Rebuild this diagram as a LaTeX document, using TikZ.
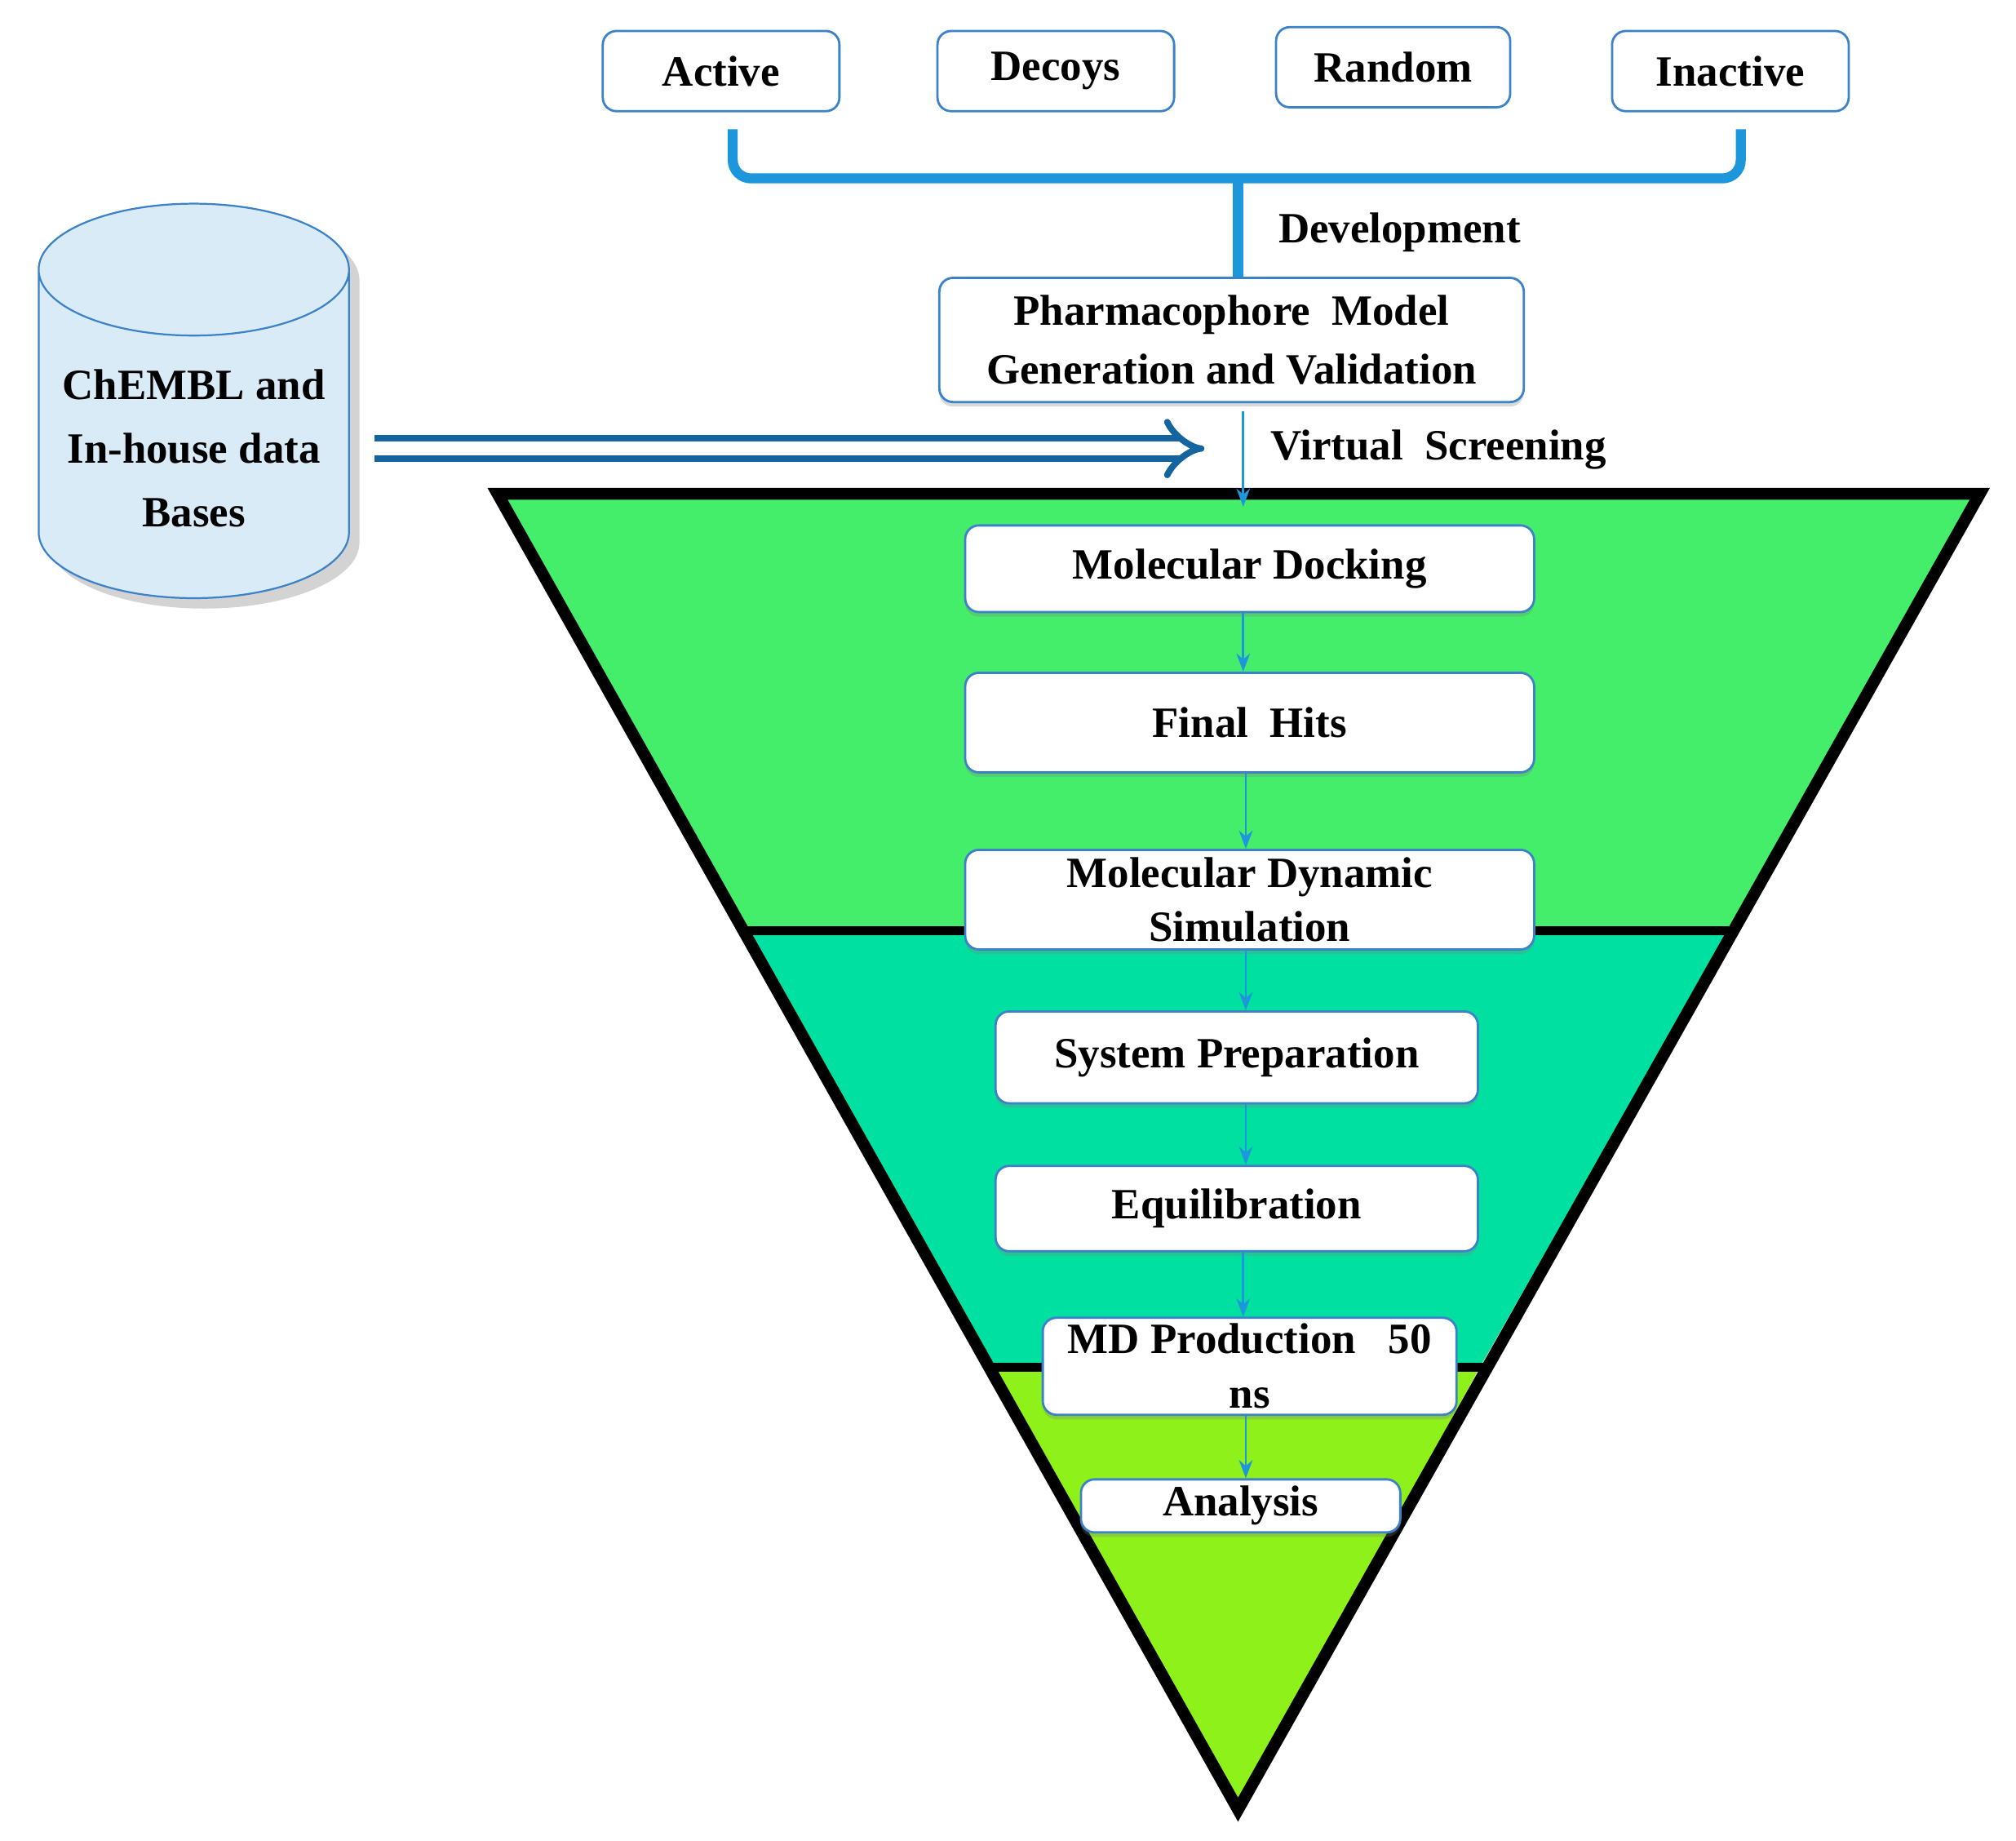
\documentclass[tikz,border=0pt]{standalone}
\usepackage{fontspec}
\setmainfont{Liberation Serif}
\usetikzlibrary{shapes.geometric,arrows.meta,shadows}
\definecolor{boxline}{RGB}{60,130,200}
\definecolor{bracecol}{RGB}{30,150,220}
\definecolor{dbarrow}{RGB}{20,100,160}
\definecolor{bandA}{RGB}{68,238,106}
\definecolor{bandB}{RGB}{0,224,160}
\definecolor{bandC}{RGB}{142,241,26}
\definecolor{dbfill}{RGB}{218,235,248}
\begin{document}
\begin{tikzpicture}[x=0.01cm,y=-0.01cm,
  every node/.style={font=\fontsize{9.5}{12}\selectfont\bfseries},
  tag/.style={draw=boxline, rounded corners=3pt, fill=white, line width=0.5pt,
    minimum height=0.62cm, inner sep=1pt},
  stage/.style={draw=boxline, rounded corners=3pt, fill=white, line width=0.5pt,
    align=center, inner sep=1pt, drop shadow={opacity=0.3, shadow xshift=0pt, shadow yshift=-1pt}},
  flow/.style={-{Stealth[length=4pt]}, draw=bracecol, line width=0.5pt}
  ]
  \useasboundingbox (0,0) rectangle (1560,1424);
  % funnel
  \fill[bandA] (385,382) -- (1532,382) -- (1338,720) -- (578,720) -- cycle;
  \fill[bandB] (578,720) -- (1338,720) -- (1145,1058) -- (767,1058) -- cycle;
  \fill[bandC] (767,1058) -- (1145,1058) -- (958,1400) -- cycle;
  \draw[line width=2.6pt, line join=miter] (385,382) -- (1532,382) -- (958,1400) -- cycle;
  \draw[line width=2pt] (578,720) -- (1338,720);
  \draw[line width=2pt] (762,1058) -- (1152,1058);
  % input sets
  \node[tag, minimum width=1.83cm] (active) at (558,55) {Active};
  \node[tag, minimum width=1.83cm] (decoys) at (817,55) {Decoys};
  \node[tag, minimum width=1.81cm] (random) at (1078,52) {Random};
  \node[tag, minimum width=1.83cm] (inactive) at (1339,55) {Inactive};
  \draw[bracecol, line width=2.2pt, rounded corners=4pt]
    (567,100) -- (567,138) -- (1347,138) -- (1347,100);
  \draw[bracecol, line width=2.2pt] (958,138) -- (958,222);
  \node[stage, minimum width=4.52cm, minimum height=0.96cm] (pharm) at (953,263)
    {Pharmacophore\ \ Model\\[1pt]Generation\ and\ Validation};
  \node (dev) at (1083,180) {Development};
  \node (vs) at (1113,348) {Virtual\ \ Screening};
  % database
  \node[cylinder, shape border rotate=90, aspect=0.45, draw=boxline, fill=dbfill,
    minimum width=2.4cm, minimum height=3.05cm, align=center,
    drop shadow={opacity=0.35}] (db) at (150,347)
    {ChEMBL and\\[2pt]In-house data\\[2pt]Bases};
  \coordinate (dbtip) at (932,347);
  \draw[dbarrow, double, double distance=3pt, line width=1.4pt, -{Implies}]
    (290,347) -- (dbtip);
  % screening steps
  \node[stage, minimum width=4.4cm, minimum height=0.67cm] (dock) at (967,440) {Molecular Docking};
  \node[stage, minimum width=4.4cm, minimum height=0.77cm] (hits) at (967,559) {Final\ \ Hits};
  \node[stage, minimum width=4.4cm, minimum height=0.77cm] (mds) at (967,696) {Molecular Dynamic\\Simulation};
  \node[stage, minimum width=3.73cm, minimum height=0.71cm] (prep) at (957,818) {System Preparation};
  \node[stage, minimum width=3.73cm, minimum height=0.66cm] (equil) at (957,935) {Equilibration};
  \node[stage, minimum width=3.2cm, minimum height=0.75cm] (prod) at (967,1057) {MD Production\ \ \ 50\\ns};
  \node[stage, minimum width=2.47cm, minimum height=0.41cm, inner sep=0pt] (anal) at (960,1165) {Analysis};
  \draw[flow] (pharm.south -| 962,0) ++(0,6) -- (962,392);
  \draw[flow] (dock.south -| 962,0) -- (hits.north -| 962,0);
  \draw[flow] (hits.south -| 964,0) -- (mds.north -| 964,0);
  \draw[flow] (mds.south -| 964,0) -- (prep.north -| 964,0);
  \draw[flow] (prep.south -| 964,0) -- (equil.north -| 964,0);
  \draw[flow] (equil.south -| 962,0) -- (prod.north -| 962,0);
  \draw[flow] (prod.south -| 964,0) -- (anal.north -| 964,0);
\end{tikzpicture}
\end{document}
